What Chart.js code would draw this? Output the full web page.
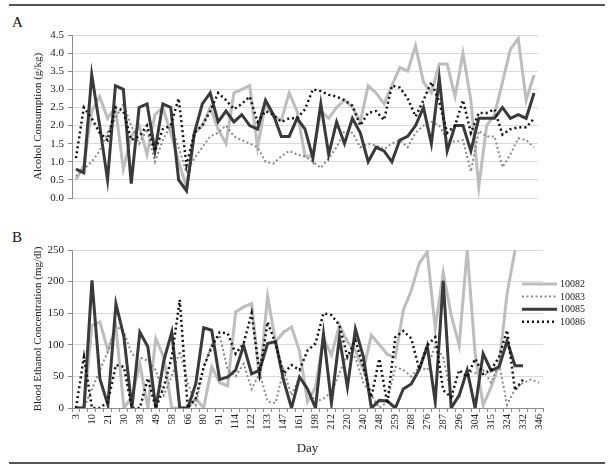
<!DOCTYPE html>
<html>
<head>
<meta charset="utf-8">
<script src="https://cdn.jsdelivr.net/npm/chart.js@4.4.1/dist/chart.umd.min.js"></script>
<style>
  html, body { margin: 0; padding: 0; background: #fff; }
  #wrap { position: relative; width: 613px; height: 470px; font-family: 'Liberation Serif', 'Times New Roman', serif; color: #111; }
  .rule { position: absolute; left: 9px; width: 596px; height: 2px; background: #555; }
  .panel { position: absolute; left: 12px; font-size: 15px; line-height: 15px; }
  canvas { position: absolute; left: 0; }
</style>
</head>
<body>
<div id="wrap">
  <div class="rule" style="top:4px"></div>
  <div class="panel" style="top:15px">A</div>
  <canvas id="chartA" width="613" height="210" style="top:0"></canvas>
  <div class="panel" style="top:230px">B</div>
  <canvas id="chartB" width="613" height="255" style="top:215px"></canvas>
  <div class="rule" style="top:462px"></div>
</div>
<script>
// ── Data ────────────────────────────────────────────────────────────
// every other day is labelled on the axis; the ones between are blank
const dayTicks = ['3', '10', '21', '30', '38', '49', '58', '66', '80', '91',
  '114', '122', '133', '147', '161', '198', '212', '220', '240', '248',
  '259', '268', '276', '287', '296', '304', '315', '324', '332', '346'];

const seriesNames = ['10082', '10083', '10085', '10086'];

// A: alcohol consumption (g/kg)
const consA82 = [0.5, 0.9, 2.4, 2.8, 2.2, 2.5, 0.8, 1.7, 2.0, 1.2,
  2.3, 2.5, 1.8, 1.0, 0.3, 1.8, 2.0, 2.5, 1.9, 1.5,
  2.9, 3.0, 3.1, 1.4, 2.6, 2.25, 2.15, 2.9, 2.4, 1.15,
  1.15, 2.4, 2.2, 2.5, 2.7, 2.5, 2.1, 3.1, 2.9, 2.6,
  3.1, 3.6, 3.5, 4.2, 3.2, 2.9, 3.7, 3.7, 2.8, 4.0,
  2.7, 0.3, 2.0, 2.3, 3.2, 4.1, 4.4, 2.7, 3.4];
const consA83 = [0.6, 0.8, 1.0, 1.3, 1.8, 2.2, 2.6, 2.0, 1.5, 1.9,
  1.0, 1.6, 2.0, 1.4, 0.7, 1.1, 1.4, 1.7, 1.8, 2.0,
  1.7, 1.6, 1.5, 1.4, 1.0, 0.95, 1.15, 1.3, 1.2, 1.15,
  1.0, 0.83, 1.1, 1.4, 1.85, 1.8, 1.4, 1.5, 1.45, 1.35,
  1.5, 1.6, 1.4, 1.8, 2.0, 2.1, 2.0, 1.6, 1.55, 1.6,
  0.73, 1.85, 1.7, 1.7, 0.85, 1.2, 1.65, 1.6, 1.4];
const consA85 = [0.8, 0.7, 3.4, 2.0, 0.5, 3.1, 3.0, 0.4, 2.5, 2.6,
  1.3, 2.6, 2.5, 0.5, 0.2, 1.8, 2.6, 2.9, 2.1, 2.4,
  2.1, 2.3, 2.0, 1.9, 2.7, 2.3, 1.7, 1.7, 2.2, 1.9,
  1.1, 2.6, 1.2, 2.1, 1.5, 2.2, 1.8, 1.0, 1.4, 1.3,
  1.0, 1.6, 1.7, 2.0, 2.5, 1.5, 3.3, 1.3, 2.0, 2.0,
  1.3, 2.2, 2.2, 2.2, 2.5, 2.2, 2.3, 2.2, 2.9];
const consA86 = [1.1, 2.5, 2.2, 1.8, 1.6, 2.5, 2.4, 1.6, 1.7, 2.0,
  1.3, 1.9, 2.0, 2.75, 0.9, 1.8, 2.0, 2.4, 2.9, 2.7,
  2.45, 2.6, 2.8, 2.1, 2.4, 2.3, 2.1, 2.2, 2.2, 2.45,
  3.0, 2.95, 2.85, 2.8, 2.7, 2.55, 2.0, 2.35, 2.4, 2.15,
  3.1, 3.05, 2.75, 2.25, 2.7, 3.2, 2.65, 1.8, 2.0, 2.7,
  1.8, 2.35, 2.35, 2.45, 1.75, 1.9, 1.95, 1.95, 2.2];

// B: blood ethanol concentration (mg/dl)
const becB82 = [0, 0, 131, 136, 91, 128, 0, 17, 70, 0,
  110, 80, 0, 0, 0, 15, 0, 65, 40, 35,
  152, 160, 165, 45, 177, 105, 120, 128, 90, 10,
  33, 110, 84, 131, 105, 91, 60, 115, 100, 85,
  80, 155, 186, 229, 247, 126, 214, 147, 99, 250,
  86, 4, 33, 68, 181, 250, null, null, null];
const becB83 = [0, 0, 30, 60, 90, 130, 120, 85, 80, 75,
  60, 20, 50, 90, 40, 5, 65, 100, 115, 60,
  50, 70, 30, 55, 10, 8, 60, 20, 50, 30,
  10, 15, 25, 55, 85, 80, 40, 20, 0, 10,
  65, 60, 50, 65, 60, 100, 80, 20, 15, 60,
  55, 60, 40, 70, 5, 30, 40, 45, 40];
const becB85 = [0, 0, 202, 46, 5, 165, 113, 0, 120, 97,
  0, 75, 120, 0, 0, 38, 127, 123, 45, 49,
  60, 99, 54, 60, 102, 105, 44, 0, 49, 30,
  0, 117, 8, 112, 33, 125, 81, 0, 12, 11,
  0, 30, 38, 61, 98, 10, 201, 0, 20, 60,
  0, 86, 59, 65, 106, 67, 67, null, null];
const becB86 = [0, 81, 0, 0, 10, 68, 65, 0, 0, 47,
  0, 33, 81, 171, 0, 15, 65, 97, 120, 118,
  86, 102, 150, 54, 136, 102, 54, 68, 60, 91,
  102, 150, 147, 131, 81, 107, 65, 17, 78, 7,
  112, 122, 110, 61, 99, 112, 28, 17, 60, 49,
  78, 54, 60, 81, 123, 28, 45, null, null];

// ── Styling ─────────────────────────────────────────────────────────
const FONT = "'Liberation Serif', 'Times New Roman', serif";
const AXIS = '#8c8c8c';
const GRID = '#d9d9d9';
const TEXT = '#222';

const STYLES = [
  { borderColor: '#bdbdbd', borderWidth: 3, borderDash: [] },
  { borderColor: '#8a8a8a', borderWidth: 2, borderDash: [2, 2.5] },
  { borderColor: '#3a3a3a', borderWidth: 3, borderDash: [] },
  { borderColor: '#111111', borderWidth: 2.5, borderDash: [2, 3] },
];

const categories = [];
dayTicks.forEach((d, k) => {
  categories.push(d);
  if (k < dayTicks.length - 1) categories.push('');
});

function makeDatasets(values) {
  return values.map((data, i) => ({
    label: seriesNames[i],
    data,
    ...STYLES[i],
    pointRadius: 0,
    tension: 0,
    fill: false,
    spanGaps: false,
    order: values.length - i,   // later series on top
  }));
}

// legend drawn by hand so it can sit over the right side of the plot
const sideLegend = {
  id: 'sideLegend',
  afterDraw(chart) {
    const ctx = chart.ctx;
    ctx.save();
    chart.data.datasets.forEach((ds, i) => {
      const y = 69 + i * 12.6;
      ctx.beginPath();
      ctx.strokeStyle = ds.borderColor;
      ctx.lineWidth = ds.borderWidth;
      ctx.setLineDash(ds.borderDash);
      ctx.moveTo(522, y);
      ctx.lineTo(557, y);
      ctx.stroke();
      ctx.setLineDash([]);
      ctx.fillStyle = TEXT;
      ctx.font = `10px ${FONT}`;
      ctx.textBaseline = 'middle';
      ctx.fillText(ds.label, 560, y + 0.5);
    });
    ctx.restore();
  },
};

function yAxis(title, max, step, decimals) {
  return {
    min: 0,
    max,
    ticks: {
      stepSize: step,
      padding: 4,
      color: TEXT,
      font: { family: FONT, size: 11 },
      callback: (v) => v.toFixed(decimals),
    },
    grid: { color: GRID, tickColor: AXIS, tickLength: 4 },
    border: { color: AXIS },
    title: { display: true, text: title, color: TEXT, font: { family: FONT, size: 11 }, padding: 4 },
    afterFit(s) { s.width = 44; },
  };
}

function createPanel(canvasId, values, y, x, padding, plugins = []) {
  const ctx = document.getElementById(canvasId).getContext('2d');
  return new Chart(ctx, {
    type: 'line',
    data: { labels: categories, datasets: makeDatasets(values) },
    options: {
      responsive: false,
      animation: false,
      layout: { padding },
      plugins: { legend: { display: false }, tooltip: { enabled: false } },
      scales: { x, y },
    },
    plugins,
  });
}

// ── Panel A ─────────────────────────────────────────────────────────
createPanel('chartA', [consA82, consA83, consA85, consA86],
  yAxis('Alcohol Consumption (g/kg)', 4.5, 0.5, 1),
  {
    type: 'category',
    offset: true,
    ticks: { display: false },
    grid: { display: false },
    border: { display: false },
    afterFit(s) { s.height = 12; },
  },
  { left: 28, right: 75, top: 35, bottom: 0 });

// ── Panel B ─────────────────────────────────────────────────────────
createPanel('chartB', [becB82, becB83, becB85, becB86],
  yAxis('Blood Ethanol Concentration (mg/dl)', 250, 50, 0),
  {
    type: 'category',
    offset: true,
    ticks: {
      autoSkip: false,
      maxRotation: 90,
      minRotation: 90,
      padding: 2,
      color: TEXT,
      font: { family: FONT, size: 10.5 },
    },
    grid: { offset: true, drawOnChartArea: false, drawTicks: true, tickLength: 4, tickColor: AXIS },
    border: { color: AXIS },
    title: { display: true, text: 'Day', color: TEXT, font: { family: FONT, size: 13 }, padding: { top: 2, bottom: 4 } },
    afterFit(s) { s.height = 52; },
  },
  { left: 28, right: 70, top: 35, bottom: 10 },
  [sideLegend]);
</script>
</body>
</html>
